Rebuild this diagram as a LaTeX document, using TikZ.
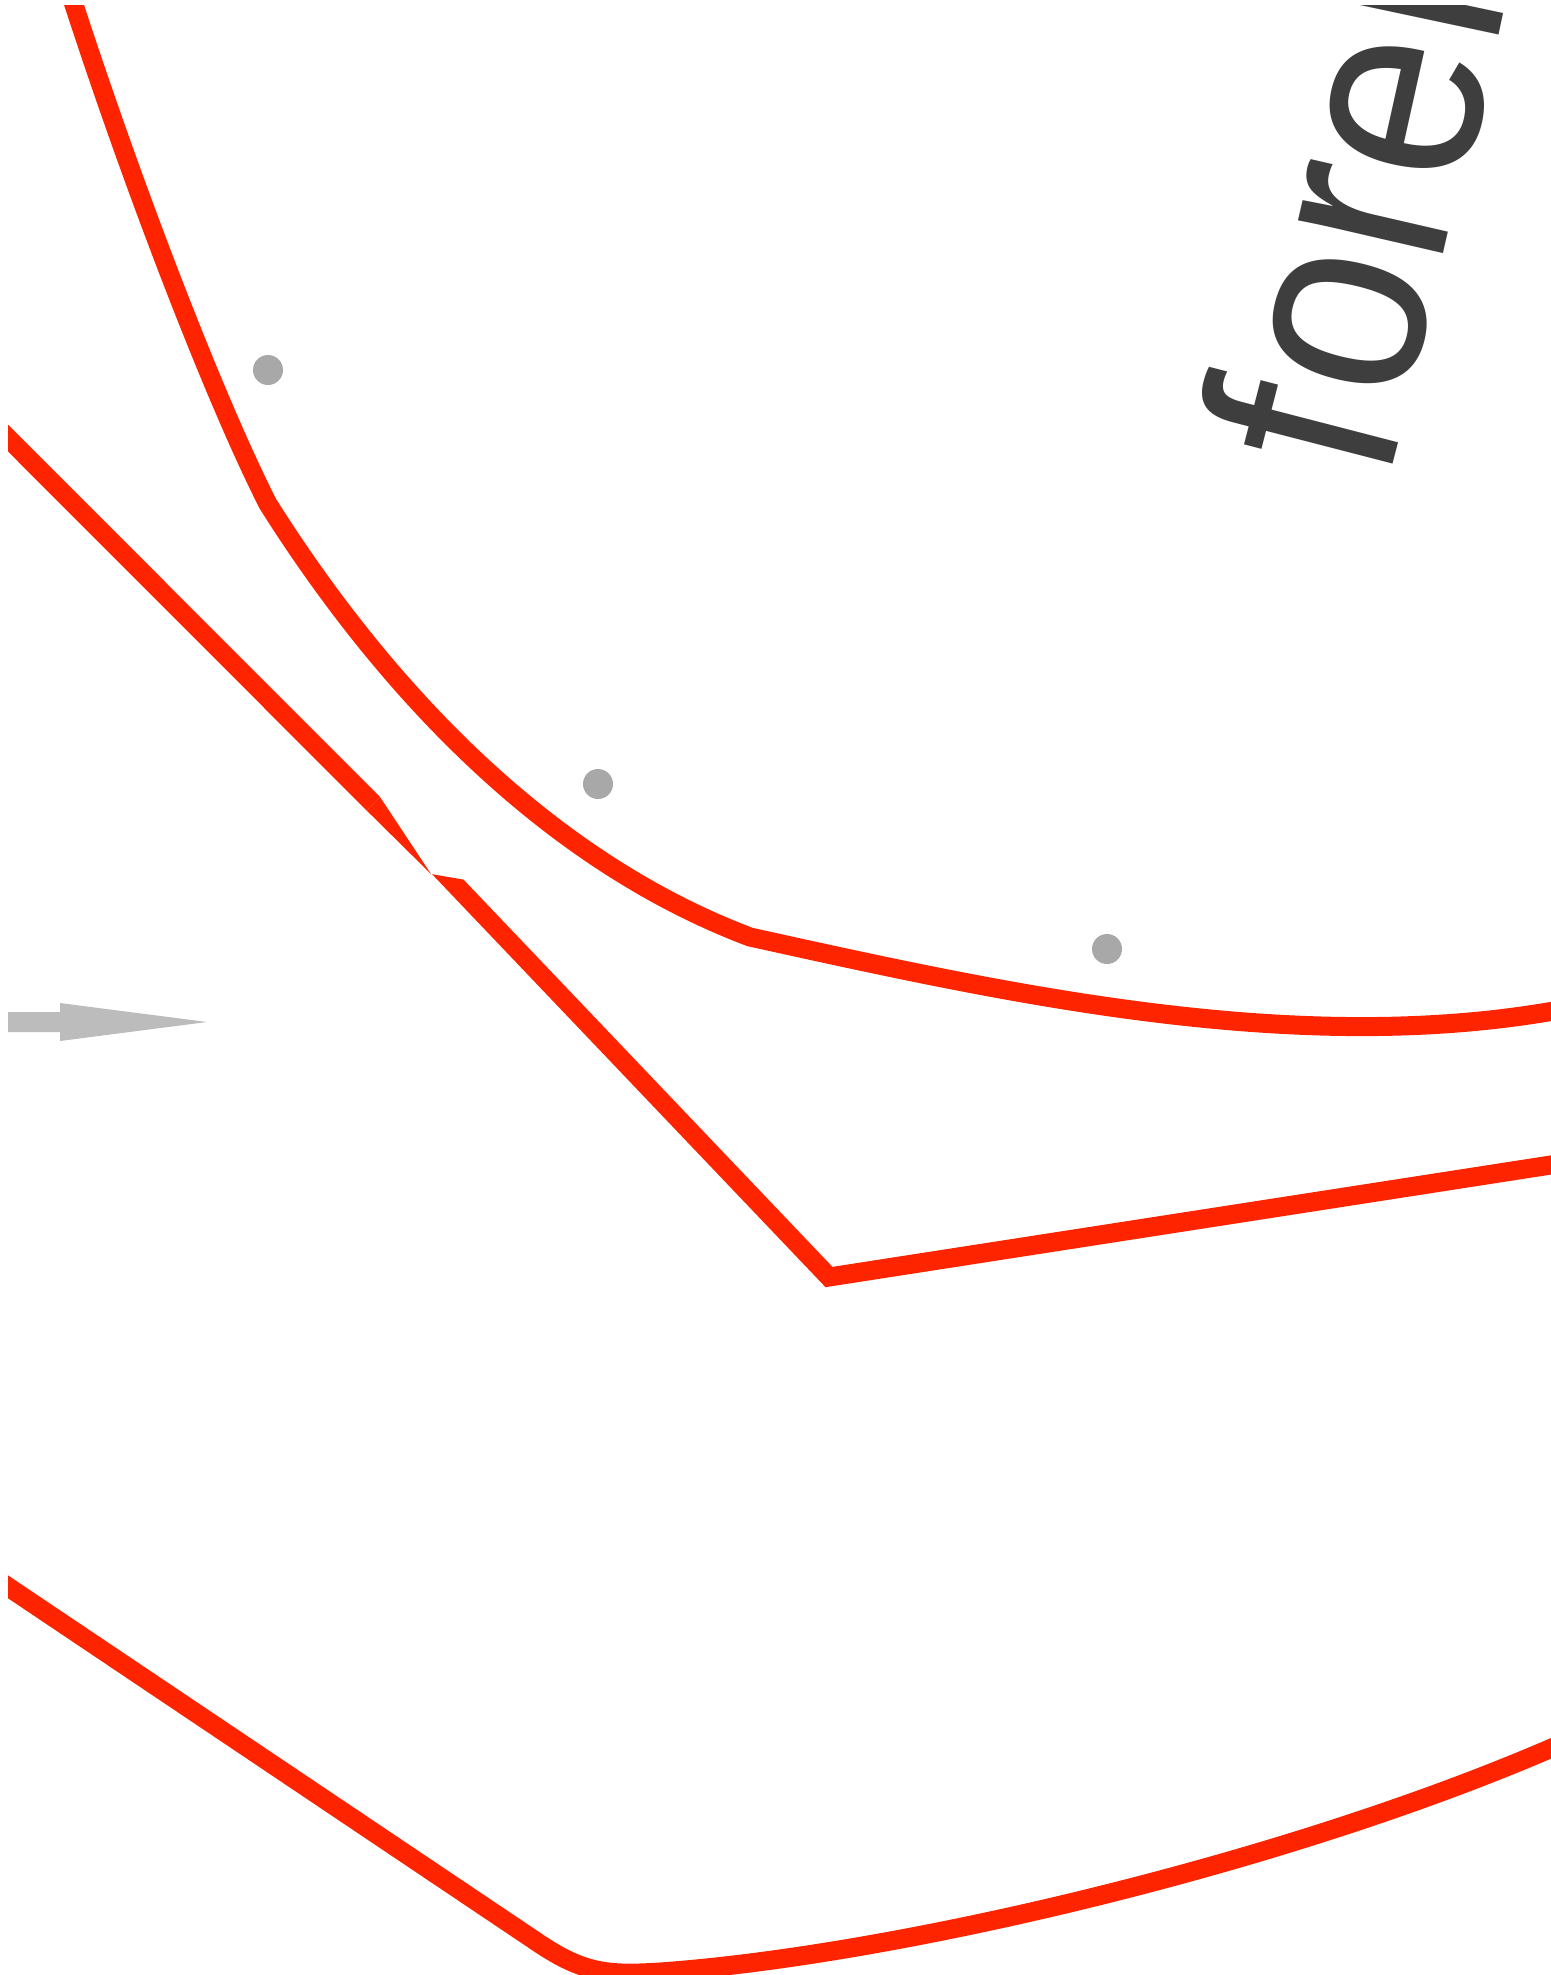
\documentclass[tikz,border=0pt]{standalone}
\usepackage{fontspec}
\setmainfont{Liberation Sans}
\usetikzlibrary{calc}
\definecolor{curvered}{RGB}{255,36,0}
\definecolor{dotgray}{RGB}{168,168,168}
\definecolor{arrowgray}{RGB}{188,188,188}
\definecolor{labelgray}{RGB}{62,62,62}
\tikzset{
    % --- Red outline curves ---
    outline/.style = {
        draw=curvered, line width=0.19cm
    },
    % --- Tapered end of the kinked outline ---
    taper/.style = {
        fill=curvered, draw=none
    },
    % --- Gray marker dots ---
    marker/.style = {
        fill=dotgray, draw=none
    },
    % --- Gray pointer arrow ---
    pointer/.style = {
        fill=arrowgray, draw=none
    },
    % --- Letters of the curved label ---
    letter/.style = {
        text=labelgray, inner sep=0pt, anchor=base,
        font=\fontsize{80}{96}\selectfont
    }
}

\begin{document}
\begin{tikzpicture}[x=0.01cm, y=-0.01cm]

\useasboundingbox (0,0) rectangle (1551,1975);
\clip (8,5) rectangle (1551,1975);

% ---------------------------------------------------------
% Upper curve
% ---------------------------------------------------------
\draw[outline] (66,-20) .. controls (130,180) and (215,400) .. (268,504)
    .. controls (360,650) and (520,850) .. (750,937)
    .. controls (1000,992) and (1300,1060) .. (1570,1008);

% ---------------------------------------------------------
% Kinked outline
% ---------------------------------------------------------
\coordinate (inStart) at (-20,410);
\coordinate (taperA) at (373.3,803.7);
\coordinate (taperUp) at (380,797);
\coordinate (taperLow) at (366.6,810.4);
\coordinate (kinkB) at (431,874);
\coordinate (kinkC) at (460,879);
\coordinate (corner) at (829,1277);
\coordinate (outEnd) at (1570,1162);

% incoming piece and its pointed end
\draw[outline] (inStart) -- (taperA);
\fill[taper] (taperUp) -- (kinkB) -- (taperLow) -- cycle;

% outgoing piece, cut off along B--C
\begin{scope}
    \clip ($(kinkB)!-3!(kinkC)$) -- ($(kinkC)!-3!(kinkB)$)
        -- (1600,1000) -- (1600,2000) -- (300,2000) -- cycle;
    \draw[outline] (426,854) -- (corner) -- (outEnd);
\end{scope}

% ---------------------------------------------------------
% Lower curve
% ---------------------------------------------------------
\draw[outline] (-20,1568) -- (540,1944)
    .. controls (585,1974) and (610,1975) .. (660,1972)
    .. controls (900,1955) and (1300,1860) .. (1570,1740);

% ---------------------------------------------------------
% Marker dots
% ---------------------------------------------------------
\foreach \x/\y [count=\i] in {268/370, 598/784, 1107/949} {
    \fill[marker] (\x,\y) circle[radius=0.15cm];
}

% ---------------------------------------------------------
% Pointer arrow
% ---------------------------------------------------------
\fill[pointer] (-20,1012) -- (60,1012) -- (60,1003) -- (207,1022)
    -- (60,1041) -- (60,1032) -- (-20,1032) -- cycle;

% ---------------------------------------------------------
% Curved label
% ---------------------------------------------------------
\foreach \c/\x/\y/\a in {f/1396/452/75.5, o/1422/340/76, r/1449/230/77,
                         e/1480/124/77.5, l/1501/24/78} {
    \node[letter, rotate=\a, xscale=0.89] (char\c) at (\x,\y) {\c};
}

\end{tikzpicture}
\end{document}
